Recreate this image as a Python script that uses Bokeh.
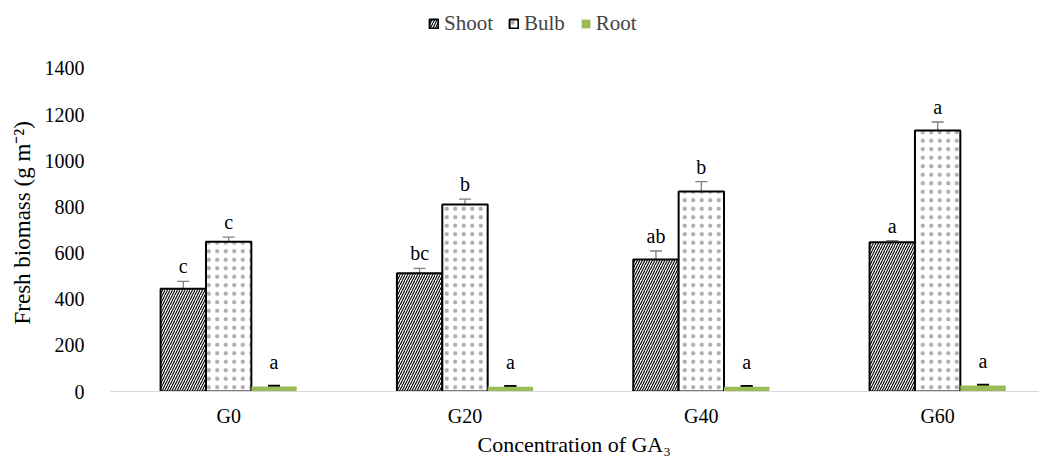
from bokeh.plotting import figure
from bokeh.models import (ColumnDataSource, Range1d, FixedTicker, Whisker, TeeHead, Legend,
                          LegendItem, Title)
from bokeh.core.properties import value
from bokeh.embed import file_html
from bokeh.resources import INLINE

categories = ["G0", "G20", "G40", "G60"]
shoot = [445, 513, 572, 647]
shoot_err = [32, 21, 37, 7]
bulb = [649, 810, 867, 1131]
bulb_err = [20, 24, 43, 37]
root = [22, 21, 21, 26]
root_err = [2, 2, 2, 2]
shoot_letters = ["c", "bc", "ab", "a"]
bulb_letters = ["c", "b", "b", "a"]
root_letters = ["a", "a", "a", "a"]
y_ticks = [0, 200, 400, 600, 800, 1000, 1200, 1400]

FONT = "Liberation Serif"
centers = [i + 0.5 for i in range(len(categories))]
bw = 0.192


def src(vals, errs, letters, off):
    xs = [c + off for c in centers]
    return ColumnDataSource(dict(
        x=xs, top=vals,
        upper=[v + e for v, e in zip(vals, errs)],
        lower=[v - e for v, e in zip(vals, errs)],
        lab=letters,
    ))


s_shoot = src(shoot, shoot_err, shoot_letters, -bw)
s_bulb = src(bulb, bulb_err, bulb_letters, 0.0)
s_root = src(root, root_err, root_letters, bw)

p = figure(width=1039, height=456, output_backend="svg", toolbar_location=None,
           x_range=Range1d(0, 3.931), y_range=Range1d(0, 1694.7),
           min_border_left=110, min_border_right=0, min_border_top=0, min_border_bottom=65)
p.outline_line_color = None
p.xgrid.grid_line_color = None
p.ygrid.grid_line_color = None

r_shoot = p.vbar(x="x", top="top", width=bw, source=s_shoot, fill_color="white",
                 line_color="black", line_width=2, hatch_pattern="/", hatch_scale=5,
                 hatch_weight=1.1, hatch_color="black")
r_bulb = p.vbar(x="x", top="top", width=bw, source=s_bulb, fill_color="white",
                line_color="black", line_width=2, hatch_pattern=".", hatch_scale=8.5,
                hatch_color="black", hatch_alpha=0.32)
r_root = p.vbar(x="x", top="top", width=bw, source=s_root, fill_color="#9bbb59",
                line_color=None)

for s, col, lw in [(s_shoot, "#7f7f7f", 1.3), (s_bulb, "#7f7f7f", 1.3), (s_root, "black", 2.5)]:
    w = Whisker(source=s, base="x", upper="upper", lower="lower", dimension="height",
                line_color=col, line_width=lw,
                upper_head=TeeHead(size=12, line_color=col, line_width=lw),
                lower_head=TeeHead(size=12, line_color=col, line_width=lw))
    p.add_layout(w)

for s, off in [(s_shoot, -4), (s_bulb, -4), (s_root, -13)]:
    p.text(x="x", y="upper", text="lab", source=s, text_align="center",
           text_baseline="bottom", y_offset=off, text_font=value(FONT),
           text_font_size="20px", text_color="black")

p.xaxis.ticker = FixedTicker(ticks=centers)
p.xaxis.major_label_overrides = {c: n for c, n in zip(centers, categories)}
p.xaxis.major_tick_line_color = None
p.xaxis.minor_tick_line_color = None
p.xaxis.axis_line_color = "#d9d9d9"
p.xaxis.major_label_text_font = FONT
p.xaxis.major_label_text_font_size = "20px"
p.xaxis.major_label_text_color = "black"
p.xaxis.major_label_standoff = 7

p.yaxis.ticker = FixedTicker(ticks=y_ticks)
p.yaxis.axis_line_color = None
p.yaxis.major_tick_line_color = None
p.yaxis.minor_tick_line_color = None
p.yaxis.major_label_text_font = FONT
p.yaxis.major_label_text_font_size = "20px"
p.yaxis.major_label_text_color = "black"
p.yaxis.major_label_standoff = 20

xt = Title(text="Concentration of GA₃", align="left", offset=367, standoff=0,
           text_font=FONT, text_font_size="22px", text_font_style="normal", text_color="black")
p.add_layout(xt, "below")
yt = Title(text="Fresh biomass (g m⁻²)", align="left", offset=67, standoff=14,
           text_font=FONT, text_font_size="23px", text_font_style="normal", text_color="black")
p.add_layout(yt, "left")

legend = Legend(items=[LegendItem(label="Shoot", renderers=[r_shoot]),
                       LegendItem(label="Bulb", renderers=[r_bulb]),
                       LegendItem(label="Root", renderers=[r_root])],
                orientation="horizontal", location=(318, 355),
                label_text_font=FONT, label_text_font_size="21px", label_height=22,
                glyph_width=11, glyph_height=11, spacing=15, label_standoff=5,
                padding=0, margin=0, border_line_color=None, background_fill_alpha=0)
p.add_layout(legend, "center")

open("out.html", "w").write(file_html(p, INLINE))
